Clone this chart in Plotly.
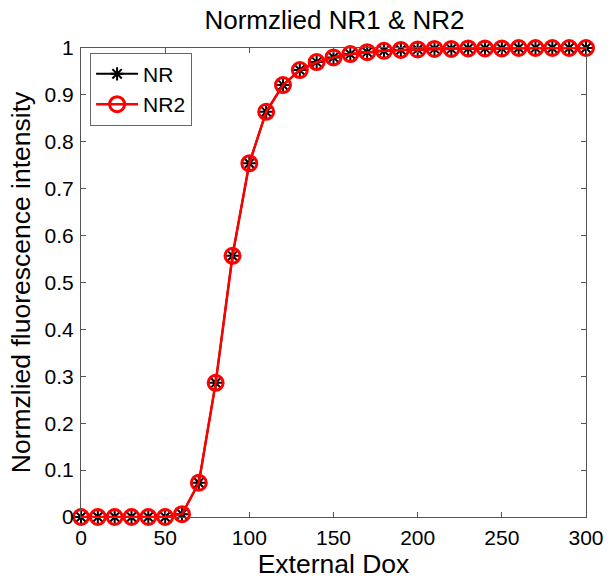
import plotly.graph_objects as go

# External Dox levels and normalized intensities
dox = [0, 10, 20, 30, 40, 50, 60, 70, 80, 90, 100, 110, 120, 130, 140, 150,
       160, 170, 180, 190, 200, 210, 220, 230, 240, 250, 260, 270, 280, 290, 300]
nr = [0.0, 0.0, 0.0, 0.0, 0.0, 0.0, 0.006, 0.073, 0.286, 0.557, 0.754, 0.864,
      0.921, 0.953, 0.970, 0.980, 0.987, 0.991, 0.994, 0.996, 0.997, 0.998,
      0.998, 0.999, 0.999, 0.999, 1.0, 1.0, 1.0, 1.0, 1.0]
nr2 = list(nr)

FONT = "Liberation Sans, Arial, sans-serif"

fig = go.Figure()
fig.add_trace(go.Scatter(
    x=dox, y=nr, name="NR", mode="lines+markers", cliponaxis=False,
    line=dict(color="black", width=2),
    marker=dict(symbol="asterisk-open", size=11, color="black",
                line=dict(color="black", width=2)),
))
fig.add_trace(go.Scatter(
    x=dox, y=nr2, name="NR2", mode="lines+markers", cliponaxis=False,
    line=dict(color="red", width=2.5),
    marker=dict(symbol="circle-open", size=15, color="red",
                line=dict(color="red", width=3)),
))

axis_common = dict(
    showgrid=False, zeroline=False, showline=True, mirror="ticks",
    linecolor="#555555", linewidth=1, ticks="inside", ticklen=5,
    tickcolor="#555555", tickfont=dict(size=21, color="black", family=FONT),
)

fig.update_layout(
    width=616, height=580,
    margin=dict(l=81, r=28, t=48, b=60),
    paper_bgcolor="white", plot_bgcolor="white",
    font=dict(family=FONT, color="black"),
    title=dict(text="Normzlied NR1 & NR2", x=0.543, xanchor="center",
               y=0.965, yanchor="middle", font=dict(size=26, family=FONT)),
    xaxis=dict(range=[0, 300], tickmode="array",
               tickvals=[0, 50, 100, 150, 200, 250, 300],
               ticklabelstandoff=2,
               title=dict(text="External Dox", font=dict(size=26.5), standoff=0),
               **axis_common),
    yaxis=dict(range=[0, 1], tickmode="array",
               tickvals=[0, 0.1, 0.2, 0.3, 0.4, 0.5, 0.6, 0.7, 0.8, 0.9, 1],
               ticktext=["0", "0.1", "0.2", "0.3", "0.4", "0.5", "0.6", "0.7",
                         "0.8", "0.9", "1"],
               ticklabelstandoff=2,
               title=dict(text="Normzlied fluorescence intensity",
                          font=dict(size=26.5), standoff=6),
               **axis_common),
    legend=dict(x=0.018, y=0.99, xanchor="left", yanchor="top",
                bgcolor="white", bordercolor="#666666", borderwidth=1,
                font=dict(size=21, family=FONT), tracegroupgap=0,
                itemwidth=42),
    showlegend=True,
)

fig.write_html("out.html")
